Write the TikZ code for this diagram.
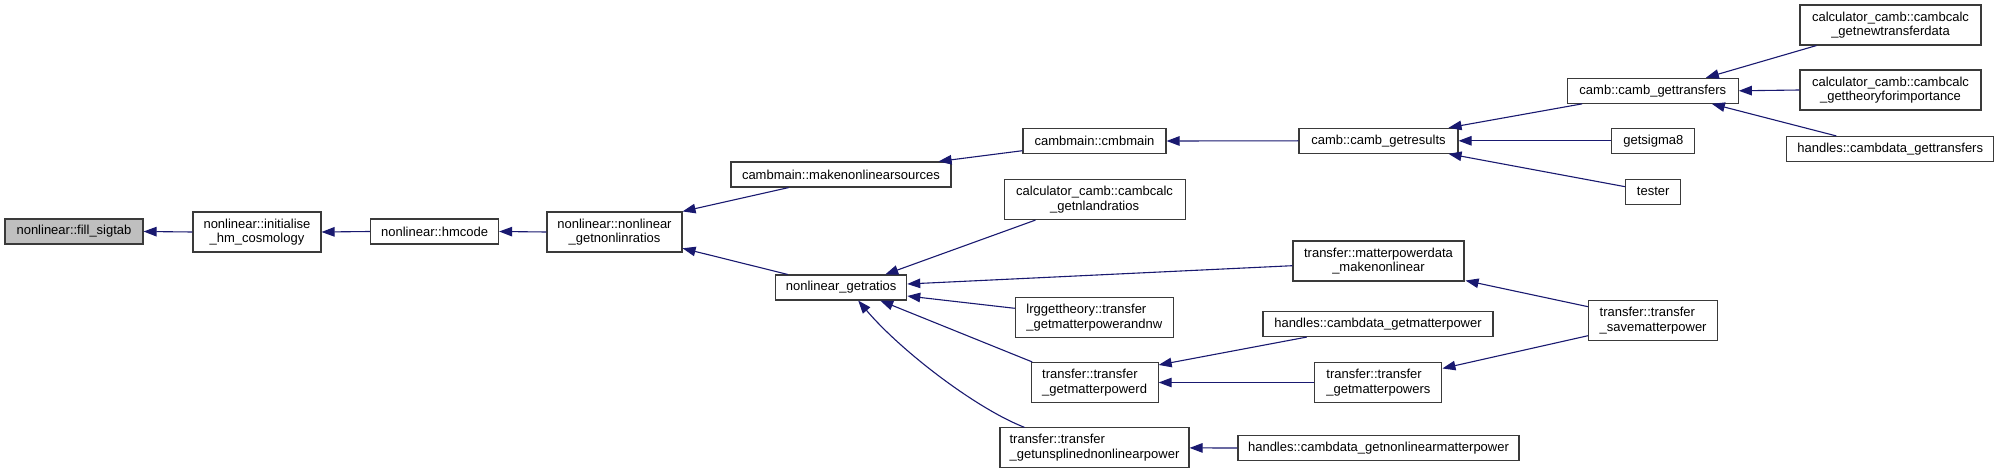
\documentclass[tikz,border=0pt]{standalone}
\usepackage{fontspec}
\setmainfont{Liberation Sans}
\usetikzlibrary{arrows.meta,calc}
\definecolor{edgec}{HTML}{191970}
\definecolor{boxc}{HTML}{3A3A3A}
\definecolor{rootc}{HTML}{BFBFBF}
\begin{document}
\begin{tikzpicture}[x=1pt,y=-1pt,
  fn/.style={draw=boxc, line width=1.1pt, fill=white, inner sep=0pt, align=center, font=\fontsize{13}{14.7}\selectfont},
  fnl/.style={fn, align=left},
  root/.style={fn, fill=rootc},
  call/.style={draw=edgec, line width=1.1pt, -{Triangle[length=13pt,width=9.5pt]}}]
\fill[white] (0,0) rectangle (2000,473);
\useasboundingbox (0,0) rectangle (2000,473);
% nodes
\node[root, minimum width=138pt, minimum height=25pt] (fill) at (74,231.5) {nonlinear::fill\_sigtab};
\node[fn, minimum width=128pt, minimum height=40pt] (init) at (257,232) {nonlinear::initialise\\\_hm\_cosmology};
\node[fn, minimum width=128pt, minimum height=25pt] (hm) at (434.6,231.5) {nonlinear::hmcode};
\node[fn, minimum width=135pt, minimum height=40pt] (nlnl) at (614.5,232) {nonlinear::nonlinear\\\_getnonlinratios};
\node[fn, minimum width=220pt, minimum height=25pt] (mkn) at (841,174.5) {cambmain::makenonlinearsources};
\node[fn, minimum width=131pt, minimum height=25pt] (ratios) at (841.2,287.5) {nonlinear\_getratios};
\node[fn, minimum width=143pt, minimum height=25pt] (cmb) at (1094.5,141) {cambmain::cmbmain};
\node[fn, minimum width=181pt, minimum height=40pt] (nland) at (1094.6,199.5) {calculator\_camb::cambcalc\\\_getnlandratios};
\node[fnl, minimum width=158pt, minimum height=40pt] (lrg) at (1094.3,317.3) {lrggettheory::transfer\\\_getmatterpowerandnw};
\node[fnl, minimum width=127pt, minimum height=40pt] (gmpd) at (1094.6,382.5) {transfer::transfer\\\_getmatterpowerd};
\node[fnl, minimum width=189pt, minimum height=40pt] (unspl) at (1094.5,447.9) {transfer::transfer\\\_getunsplinednonlinearpower};
\node[fn, minimum width=159pt, minimum height=25pt] (res) at (1378.5,140.8) {camb::camb\_getresults};
\node[fn, minimum width=171pt, minimum height=40pt] (mpd) at (1378.5,261) {transfer::matterpowerdata\\\_makenonlinear};
\node[fn, minimum width=230pt, minimum height=25pt] (hgmp) at (1378,324) {handles::cambdata\_getmatterpower};
\node[fnl, minimum width=127pt, minimum height=40pt] (gmps) at (1378.4,382.5) {transfer::transfer\\\_getmatterpowers};
\node[fn, minimum width=281pt, minimum height=25pt] (hgnl) at (1378.5,448) {handles::cambdata\_getnonlinearmatterpower};
\node[fn, minimum width=171pt, minimum height=25pt] (trans) at (1652.8,90.8) {camb::camb\_gettransfers};
\node[fn, minimum width=83pt, minimum height=25pt] (sig8) at (1653.3,140.8) {getsigma8};
\node[fn, minimum width=55pt, minimum height=25pt] (tester) at (1653.2,191.7) {tester};
\node[fnl, minimum width=129pt, minimum height=40pt] (save) at (1653.1,320.8) {transfer::transfer\\\_savematterpower};
\node[fn, minimum width=181pt, minimum height=40pt] (newtd) at (1890.5,25) {calculator\_camb::cambcalc\\\_getnewtransferdata};
\node[fn, minimum width=181pt, minimum height=40pt] (theory) at (1890.5,90) {calculator\_camb::cambcalc\\\_gettheoryforimportance};
\node[fn, minimum width=207pt, minimum height=25pt] (htr) at (1890.2,149) {handles::cambdata\_gettransfers};
% edges
\draw[call] (init.west) -- (fill.east);
\draw[call] (hm.west) -- (init.east);
\draw[call] (nlnl.west) -- (hm.east);
\draw[call] ($(mkn.south west)+(58.3,0)$) -- (nlnl.north east);
\draw[call] ($(ratios.north west)+(12.6,0)$) -- ($(nlnl.east)+(0,16.3)$);
\draw[call] ($(cmb.west)+(0,9.7)$) -- ($(mkn.north east)+(-13,0)$);
\draw[call] (res.west) -- (cmb.east);
\draw[call] ($(trans.south west)+(15.4,0)$) -- ($(res.north east)+(-10,0)$);
\draw[call] (sig8.west) -- (res.east);
\draw[call] ($(tester.west)+(0,-5)$) -- ($(res.south east)+(-10,0)$);
\draw[call] ($(newtd.south west)+(17,0)$) -- ($(trans.north east)+(-33,0)$);
\draw[call] (theory.west) -- (trans.east);
\draw[call] ($(htr.north west)+(50.2,0)$) -- ($(trans.south east)+(-27,0)$);
\draw[call] ($(nland.south west)+(32,0)$) -- ($(ratios.north)+(44,0)$);
\draw[call] ($(mpd.west)+(0,4.7)$) -- ($(ratios.east)+(0,-3.5)$);
\draw[call] ($(lrg.west)+(0,-9)$) -- ($(ratios.east)+(0,8.5)$);
\draw[call] ($(gmpd.north west)+(1.7,0)$) -- ($(ratios.south)+(39,0)$);
\draw[call] ($(unspl.north west)+(25,0)$) .. controls (975,408) and (900,350) .. ($(ratios.south)+(17,0)$);
\draw[call] ($(hgmp.south west)+(44.4,0)$) -- ($(gmpd.north east)+(0,3)$);
\draw[call] (gmps.west) -- (gmpd.east);
\draw[call] ($(save.west)+(0,-14.1)$) -- ($(mpd.south east)+(1,-1)$);
\draw[call] ($(save.west)+(0,14.9)$) -- ($(gmps.north east)+(0,6.5)$);
\draw[call] (hgnl.west) -- (unspl.east);
\end{tikzpicture}
\end{document}
